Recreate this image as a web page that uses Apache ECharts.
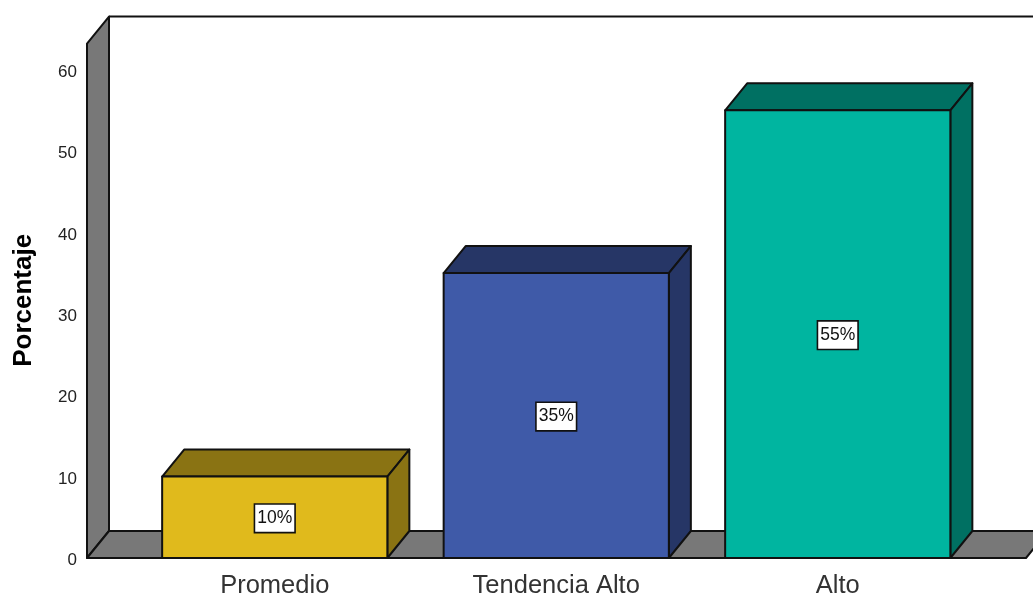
<!DOCTYPE html>
<html>
<head>
<meta charset="utf-8">
<style>html,body{margin:0;padding:0;background:#fff}#c{width:1033px;height:596px}</style>
<script src="https://cdn.jsdelivr.net/npm/echarts@6/dist/echarts.min.js"></script>
</head>
<body>
<div id="c"></div>
<script>
const categories = ['Promedio', 'Tendencia Alto', 'Alto'];
const values = [10, 35, 55];
const labels = ['10%', '35%', '55%'];
const frontColors = ['#E0BA1C', '#3F5AA8', '#00B5A0'];
const darkColors = ['#8A7313', '#263666', '#007062'];
const yTicks = { min: 0, max: 60, interval: 10 };
const wallTopValue = 63.2;
const depthX = 22, depthY = 27;
const wallPadLeft = 47, wallPadRight = 47.5;
const INK = '#111111', WALL = '#787878';

const chart = echarts.init(document.getElementById('c'), null, { renderer: 'canvas' });

function poly(points, fill) {
  return { type: 'polygon', shape: { points }, style: { fill, stroke: INK, lineWidth: 2, lineJoin: 'round' } };
}

function renderWalls(params, api) {
  const g = params.coordSys;
  const y0 = api.coord([0, 0])[1];
  const yTop = api.coord([0, wallTopValue])[1];
  const xL = g.x - wallPadLeft, xR = g.x + g.width + wallPadRight;
  return { type: 'group', children: [
    poly([[xL, yTop], [xL + depthX, yTop - depthY], [xL + depthX, y0 - depthY], [xL, y0]], WALL),
    poly([[xL, y0], [xL + depthX, y0 - depthY], [xR + depthX, y0 - depthY], [xR, y0]], WALL),
    { type: 'line', shape: { x1: xL + depthX, y1: yTop - depthY, x2: xR + depthX, y2: yTop - depthY },
      style: { stroke: INK, lineWidth: 2 } }
  ] };
}

function renderBar(params, api) {
  const i = api.value(0), v = api.value(1);
  const c = api.coord([i, v]), b = api.coord([i, 0]);
  const w = api.size([1, 0])[0] * 0.8;
  const l = c[0] - w / 2, r = c[0] + w / 2, t = c[1], y0 = b[1];
  return { type: 'group', children: [
    poly([[l, t], [l + depthX, t - depthY], [r + depthX, t - depthY], [r, t]], darkColors[i]),
    poly([[r, t], [r + depthX, t - depthY], [r + depthX, y0 - depthY], [r, y0]], darkColors[i]),
    poly([[l, t], [r, t], [r, y0], [l, y0]], frontColors[i]),
    { type: 'text', x: c[0], y: (t + y0) / 2 + 1, style: {
      text: labels[i], x: 0, y: 0, align: 'center', verticalAlign: 'middle',
      font: '17.5px "Liberation Sans", Arial, sans-serif', fill: '#111',
      backgroundColor: '#fff', borderColor: INK, borderWidth: 1.6, padding: [5, 2, 4, 2]
    } }
  ] };
}

chart.setOption({
  animation: false,
  backgroundColor: '#fff',
  grid: { left: 134, top: 69.6, width: 844.5, height: 488.4, containLabel: false, outerBoundsMode: 'none' },
  xAxis: {
    type: 'category', data: categories,
    axisLine: { show: false }, axisTick: { show: false },
    axisLabel: { color: '#333', fontFamily: '"Liberation Sans", Arial, sans-serif', fontSize: 25.5, margin: 15 }
  },
  yAxis: {
    type: 'value', min: yTicks.min, max: yTicks.max, interval: yTicks.interval,
    offset: wallPadLeft, splitLine: { show: false },
    axisLine: { show: false }, axisTick: { show: false },
    axisLabel: { color: '#222', fontFamily: '"Liberation Sans", Arial, sans-serif', fontSize: 17, margin: 10,
      formatter: '{n|{value}}', rich: { n: { padding: [5, 0, 0, 0], fontSize: 17, color: '#222', fontFamily: '"Liberation Sans", Arial, sans-serif' } } },
    name: 'Porcentaje', nameLocation: 'middle', nameGap: 50, nameRotate: 90,
    nameTextStyle: { color: '#000', fontFamily: '"Liberation Sans", Arial, sans-serif', fontSize: 26, fontWeight: 'bold', padding: [0, 0, 0, 27] }
  },
  series: [
    { type: 'custom', z: 1, silent: true, renderItem: renderWalls, data: [[0, wallTopValue]], encode: { x: 0, y: 1 }, clip: false },
    { type: 'custom', z: 2, silent: true, renderItem: renderBar, data: values.map((v, i) => [i, v]), encode: { x: 0, y: 1 }, clip: false }
  ]
});
</script>
</body>
</html>
